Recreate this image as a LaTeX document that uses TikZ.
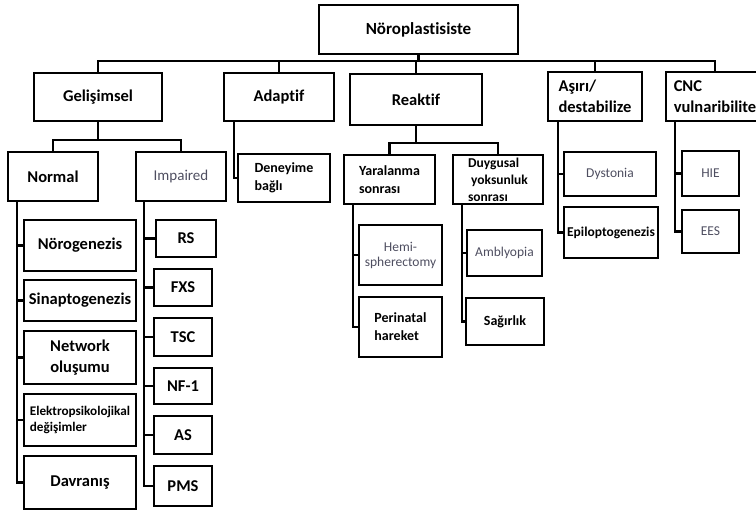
\documentclass[tikz,border=0pt]{standalone}
\usepackage{fontspec}
\setmainfont{Carlito}[Ligatures=NoCommon]

\begin{document}
\begin{tikzpicture}[x=1pt, y=-1pt,
  box/.style = {draw, rectangle, line width=2.6pt, align=center,
    inner sep=1pt, font=\bfseries\fontsize{16.5}{21}\selectfont},
  small/.style = {font=\bfseries\fontsize{14}{18}\selectfont},
  lite/.style = {text={rgb,255:red,78;green,78;blue,96}, font=\fontsize{13.5}{15}\selectfont},
  conn/.style = {line width=2.3pt}]
  \useasboundingbox (0,0) rectangle (756,514);
  \clip (0,0) rectangle (756,514);

  % top level
  \node[box, font=\bfseries\fontsize{17}{21}\selectfont, minimum width=199, minimum height=49] (root) at (418.5,29.5) {Nöroplastisiste};
  \node[box, minimum width=128, minimum height=48] (gel) at (98,97) {Gelişimsel};
  \node[box, minimum width=110, minimum height=48] (adap) at (279,97) {Adaptif};
  \node[box, minimum width=132, minimum height=51] (reak) at (416,99.5) {Reaktif};
  \node[box, align=left, minimum width=94, minimum height=49] (asiri) at (595,96.5) {Aşırı/\\destabilize};
  \node[box, align=left, minimum width=98, minimum height=49] (cnc) at (715,96.5) {CNC\\vulnaribilite};

  % second level
  \node[box, minimum width=90, minimum height=49] (norm) at (53,176.5) {Normal};
  \node[box, lite, font=\fontsize{15}{17}\selectfont, minimum width=90, minimum height=49] (imp) at (181,176.5) {Impaired};
  \node[box, small, align=left, minimum width=92, minimum height=48] (den) at (284,178) {Deneyime\\bağlı};
  \node[box, small, align=left, minimum width=91, minimum height=49] (yar) at (389.5,179.5) {Yaralanma\\sonrası};
  \node[box, small, font=\bfseries\fontsize{13.5}{17}\selectfont, align=left, minimum width=90, minimum height=49] (duy) at (498,179.5) {Duygusal\\\ yoksunluk\\sonrası};

  % Normal
  \node[box, minimum width=112, minimum height=51] (nrg) at (80,245.5) {Nörogenezis};
  \node[box, minimum width=112, minimum height=41] (sin) at (80,300.5) {Sinaptogenezis};
  \node[box, minimum width=112, minimum height=53] (net) at (80,357.5) {Network\\oluşumu};
  \node[box, align=left, font=\bfseries\fontsize{13.2}{16}\selectfont, minimum width=112, minimum height=52] (elk) at (80,420) {Elektropsikolojikal\\değişimler};
  \node[box, minimum width=112, minimum height=53] (dav) at (80,482.5) {Davranış};

  % Impaired
  \node[box, minimum width=60, minimum height=37] (rs) at (186,238.5) {RS};
  \node[box, minimum width=58, minimum height=37] (fxs) at (183,287.5) {FXS};
  \node[box, minimum width=58, minimum height=38] (tsc) at (183,337) {TSC};
  \node[box, minimum width=58, minimum height=36] (nf) at (183,386) {NF-1};
  \node[box, minimum width=58, minimum height=38] (as) at (183,435) {AS};
  \node[box, minimum width=58, minimum height=40] (pms) at (183,486) {PMS};

  % Reaktif
  \node[box, lite, minimum width=83, minimum height=60] (hemi) at (400.5,255) {Hemi-\\spherectomy};
  \node[box, small, align=left, minimum width=83, minimum height=60] (peri) at (400.5,327) {Perinatal\\hareket};
  \node[box, lite, minimum width=75, minimum height=46] (amb) at (504.5,253) {Amblyopia};
  \node[box, small, minimum width=78, minimum height=47] (sag) at (505,321.5) {Sağırlık};

  % Asiri / CNC
  \node[box, lite, minimum width=92, minimum height=44] (dys) at (610,174) {Dystonia};
  \node[box, small, font=\bfseries\fontsize{13.5}{17}\selectfont, minimum width=94, minimum height=51] (epi) at (611,232.5) {Epiloptogenezis};
  \node[box, lite, minimum width=57, minimum height=45] (hie) at (710.5,173.5) {HIE};
  \node[box, lite, minimum width=57, minimum height=43] (ees) at (710.5,231.5) {EES};

  % buses
  \coordinate (bus) at (0,61);
  \draw[conn] (root.south) -- (root.south |- bus);
  \draw[conn] (gel.north) |- (cnc.north |- bus) -- (cnc.north);
  \foreach \n in {adap,reak,asiri}
    \draw[conn] (\n.north) -- (\n.north |- bus);

  \coordinate (gbus) at (0,140);
  \draw[conn] (gel.south) -- (gel.south |- gbus);
  \draw[conn] (norm.north) |- (imp.north |- gbus) -- (imp.north);

  \coordinate (rbus) at (0,143);
  \draw[conn] (reak.south) -- (reak.south |- rbus);
  \draw[conn] (yar.north) |- (duy.north |- rbus) -- (duy.north);

  % side bars
  \coordinate (nbar) at ([xshift=10pt]norm.south west);
  \draw[conn] (nbar) |- (dav.west);
  \foreach \n in {nrg,sin,net,elk}
    \draw[conn] (\n.west) -- (\n.west -| nbar);

  \coordinate (ibar) at ([xshift=9pt]imp.south west);
  \draw[conn] (ibar) |- (pms.west);
  \foreach \n in {rs,fxs,tsc,nf,as}
    \draw[conn] (\n.west) -- (\n.west -| ibar);

  \draw[conn] ([xshift=11pt]adap.south west) |- (den.west);

  \coordinate (ybar) at ([xshift=10pt]yar.south west);
  \draw[conn] (ybar) |- (peri.west);
  \draw[conn] (hemi.west) -- (hemi.west -| ybar);

  \coordinate (dbar) at ([xshift=10pt]duy.south west);
  \draw[conn] (dbar) |- (sag.west);
  \draw[conn] (amb.west) -- (amb.west -| dbar);

  \coordinate (abar) at ([xshift=11pt]asiri.south west);
  \draw[conn] (abar) |- (epi.west);
  \draw[conn] (dys.west) -- (dys.west -| abar);

  \coordinate (cbar) at ([xshift=10pt]cnc.south west);
  \draw[conn] (cbar) |- (ees.west);
  \draw[conn] (hie.west) -- (hie.west -| cbar);
\end{tikzpicture}
\end{document}
